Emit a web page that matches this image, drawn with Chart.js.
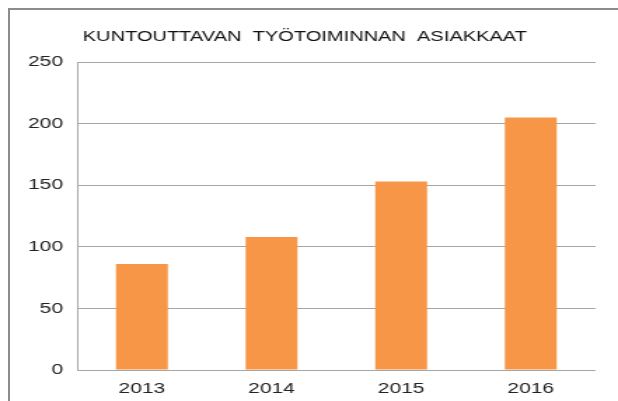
<!DOCTYPE html>
<html>
<head>
<meta charset="utf-8">
<script src="https://cdn.jsdelivr.net/npm/chart.js@4"></script>
<style>
  html, body { margin: 0; padding: 0; background: #fff; overflow: hidden; }
  #wrap { position: relative; width: 618px; height: 401px; }
  #frame {
    position: absolute; left: 8px; top: 8px; width: 640px; height: 420px;
    border-left: 2px solid #8c8c8c; border-top: 2px solid #8c8c8c;
  }
  #chart { position: absolute; left: 0; top: 0; }
</style>
</head>
<body>
<div id="wrap">
  <div id="frame"></div>
  <!-- drawn narrow and stretched sideways, the reference text is wide -->
  <canvas id="chart" width="441" height="401" style="width:618px;height:401px"></canvas>
</div>
<script>
const years = ['2013', '2014', '2015', '2016'];
const clients = [86, 108, 153, 205];
const yTicks = [0, 50, 100, 150, 200, 250];
const chartTitle = 'KUNTOUTTAVAN  TYÖTOIMINNAN  ASIAKKAAT';

const font = 'Liberation Sans, Arial, sans-serif';

new Chart(document.getElementById('chart'), {
    type: 'bar',
    data: {
        labels: years,
        datasets: [{
            data: clients,
            backgroundColor: '#F79646',
            borderWidth: 0,
            barPercentage: 0.4,
            categoryPercentage: 1
        }]
    },
    options: {
        responsive: false,
        animation: false,
        layout: { padding: { left: 10, right: 16, top: 0, bottom: 0 } },
        plugins: {
            legend: { display: false },
            tooltip: { enabled: false },
            title: {
                display: true,
                text: chartTitle,
                color: '#111',
                font: { family: font, size: 14.3, weight: 'normal' },
                padding: { top: 28, bottom: 17 }
            }
        },
        scales: {
            x: {
                grid: { display: false },
                border: { display: false },
                ticks: {
                    color: '#222',
                    font: { family: font, size: 15 },
                    padding: 2
                },
                afterFit: (scale) => { scale.height = 31; }
            },
            y: {
                min: yTicks[0],
                max: yTicks[yTicks.length - 1],
                afterBuildTicks: (scale) => { scale.ticks = yTicks.map(v => ({ value: v })); },
                grid: { color: '#a6a6a6', drawTicks: false },
                border: { display: true, color: '#a6a6a6' },
                ticks: {
                    color: '#222',
                    font: { family: font, size: 15 },
                    padding: 10
                },
                afterFit: (scale) => { scale.width = 45; }
            }
        }
    }
});
</script>
</body>
</html>
